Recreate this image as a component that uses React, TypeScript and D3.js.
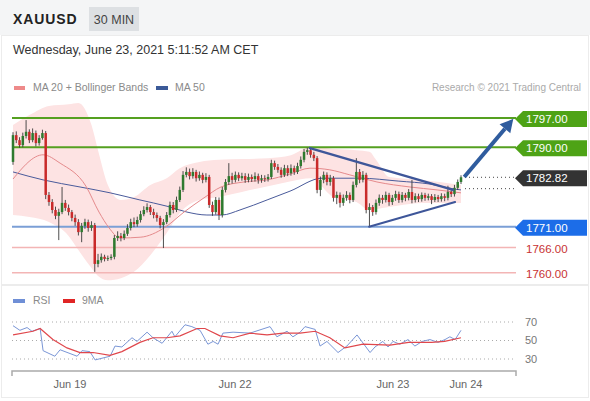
import React from "react";
import * as d3 from "d3";

const symbol = "XAUUSD";
const timeframe = "30 MIN";
const dateText = "Wednesday, June 23, 2021 5:11:52 AM CET";
const credit = "Research \u00a9 2021 Trading Central";

const firstOpen = 1786.5;
const closes = [
  1792.9, 1791.7, 1790.5, 1792.7, 1793.7, 1791.7, 1793.4, 1791.0, 1792.2, 1793.4,
  1778.6, 1776.9, 1775.0, 1773.6, 1774.5, 1776.7, 1775.5, 1774.5, 1773.1, 1772.1,
  1769.7, 1771.2, 1772.1, 1770.7, 1771.4, 1762.1, 1763.0, 1763.8, 1763.3, 1763.5,
  1763.8, 1768.3, 1768.8, 1768.3, 1769.3, 1770.7, 1772.1, 1771.6, 1772.6, 1774.0,
  1775.0, 1775.7, 1774.5, 1773.8, 1773.1, 1771.4, 1772.1, 1773.8, 1776.2, 1775.0,
  1777.4, 1779.8, 1783.4, 1784.1, 1783.1, 1784.1, 1782.6, 1783.4, 1782.2, 1782.9,
  1776.2, 1774.5, 1777.4, 1773.8, 1779.8, 1781.7, 1783.1, 1782.2, 1783.4, 1782.6,
  1783.1, 1782.2, 1782.9, 1782.4, 1783.1, 1782.2, 1782.6, 1782.4, 1782.9, 1786.2,
  1785.3, 1784.6, 1783.4, 1785.0, 1783.8, 1785.0, 1784.1, 1785.5, 1787.0, 1788.9,
  1789.3, 1788.2, 1787.4, 1779.8, 1782.2, 1783.4, 1781.7, 1782.6, 1777.9, 1778.6,
  1776.7, 1777.9, 1778.6, 1777.4, 1781.0, 1784.1, 1782.2, 1783.4, 1775.0, 1775.7,
  1774.5, 1776.7, 1777.9, 1777.4, 1778.6, 1776.9, 1777.9, 1778.8, 1777.4, 1778.6,
  1777.9, 1779.3, 1777.4, 1778.3, 1777.6, 1778.6, 1777.9, 1778.3, 1777.4, 1778.1,
  1777.6, 1778.3, 1777.9, 1779.3, 1778.8, 1780.3, 1781.7, 1782.82,
];
const highs = [
  1793.6, 1793.8, 1792.4, 1793.5, 1796.5, 1794.3, 1794.5, 1794.0, 1792.9, 1794.2,
  1793.9, 1779.3, 1777.6, 1775.8, 1775.3, 1780.5, 1777.4, 1776.3, 1775.0, 1773.9,
  1772.8, 1771.9, 1772.9, 1772.7, 1772.3, 1771.9, 1764.5, 1764.6, 1764.3, 1764.1,
  1764.4, 1769.0, 1769.9, 1769.5, 1770.1, 1771.6, 1772.9, 1773.2, 1773.4, 1774.8,
  1775.9, 1776.6, 1776.2, 1775.3, 1774.4, 1773.6, 1772.8, 1774.5, 1777.0, 1776.9,
  1778.2, 1780.6, 1784.3, 1785.2, 1784.9, 1785.0, 1784.6, 1784.2, 1783.9, 1783.8,
  1783.4, 1777.0, 1778.1, 1778.0, 1780.5, 1782.4, 1786.2, 1783.9, 1784.2, 1784.0,
  1783.9, 1783.8, 1783.7, 1783.5, 1784.0, 1783.7, 1783.4, 1783.3, 1783.6, 1787.0,
  1786.8, 1786.0, 1785.2, 1785.8, 1785.7, 1785.9, 1785.6, 1786.3, 1787.8, 1789.6,
  1789.9, 1789.8, 1788.9, 1787.9, 1783.0, 1784.2, 1784.0, 1783.4, 1783.1, 1779.4,
  1779.2, 1778.7, 1779.5, 1779.2, 1781.8, 1787.4, 1784.8, 1784.3, 1783.9, 1776.6,
  1776.2, 1777.5, 1778.7, 1778.6, 1779.4, 1779.1, 1778.6, 1779.6, 1779.4, 1779.3,
  1779.1, 1780.0, 1782.2, 1779.0, 1778.9, 1779.2, 1779.1, 1778.9, 1778.8, 1778.8,
  1778.6, 1779.0, 1778.9, 1780.8, 1779.9, 1781.0, 1782.3, 1783.3,
];
const lows = [
  1785.8, 1791.0, 1789.9, 1790.0, 1792.1, 1791.0, 1791.2, 1790.2, 1790.4, 1791.8,
  1777.6, 1776.0, 1774.2, 1772.8, 1767.8, 1774.0, 1774.8, 1773.7, 1772.3, 1771.2,
  1768.9, 1767.3, 1770.5, 1769.8, 1770.0, 1760.2, 1761.3, 1762.4, 1762.7, 1762.8,
  1763.0, 1763.2, 1767.6, 1767.5, 1767.8, 1768.8, 1770.1, 1770.9, 1771.0, 1772.0,
  1773.5, 1774.4, 1773.8, 1773.0, 1772.2, 1770.6, 1765.9, 1771.6, 1773.2, 1774.2,
  1774.5, 1776.9, 1779.3, 1782.8, 1782.3, 1782.5, 1781.8, 1782.0, 1781.4, 1781.6,
  1775.5, 1773.6, 1773.9, 1772.6, 1773.2, 1779.2, 1781.0, 1781.3, 1781.6, 1781.9,
  1782.0, 1781.5, 1781.6, 1781.7, 1781.8, 1781.3, 1781.5, 1781.7, 1781.8, 1782.4,
  1784.6, 1783.9, 1782.7, 1782.9, 1783.1, 1783.2, 1783.4, 1783.6, 1784.9, 1786.4,
  1788.2, 1787.5, 1786.7, 1779.0, 1778.3, 1781.4, 1780.9, 1780.8, 1777.0, 1776.4,
  1775.6, 1776.0, 1777.2, 1776.6, 1776.9, 1780.4, 1781.4, 1781.6, 1774.2, 1771.0,
  1773.6, 1773.9, 1776.0, 1776.5, 1776.8, 1776.0, 1776.2, 1777.2, 1776.7, 1776.8,
  1777.1, 1777.3, 1776.6, 1776.8, 1776.9, 1777.0, 1777.2, 1777.3, 1776.4, 1776.9,
  1776.9, 1777.0, 1777.1, 1777.3, 1778.1, 1778.2, 1779.8, 1781.2,
];

const bandIdx = [0, 5, 11, 17, 20, 24, 26, 29, 33, 37, 42, 47, 51, 57, 63, 70, 78, 85, 91, 98, 105, 109, 111, 115, 125, 137];
const bandUpper = [1795.3, 1797.7, 1799.9, 1800.3, 1800.6, 1795.3, 1789.3, 1781.0, 1777.4, 1778.1, 1781.0, 1782.6, 1785.0, 1786.5, 1787.0, 1787.2, 1787.4, 1788.1, 1790.1, 1789.6, 1789.3, 1788.9, 1787.0, 1782.9, 1782.2, 1781.0];
const bandLower = [1773.8, 1773.3, 1772.1, 1768.8, 1765.4, 1761.1, 1759.2, 1758.2, 1758.7, 1760.2, 1764.2, 1769.5, 1774.3, 1777.4, 1778.1, 1779.3, 1780.7, 1781.9, 1782.6, 1778.1, 1776.9, 1775.0, 1775.2, 1775.7, 1776.7, 1776.7];

const ma20Idx = [0, 9.2, 14.4, 22.3, 26.3, 29.4, 32.7, 39.1, 46.2, 52.3, 58.4, 63.6, 70.6, 77.7, 84.7, 90.8, 96.9, 103, 111.3, 121.4, 129.7, 137];
const ma20Vals = [1782.4, 1788.2, 1786.2, 1780.7, 1774.5, 1770.7, 1768.3, 1768.5, 1770.7, 1774.5, 1777.9, 1780.5, 1781.7, 1782.2, 1783.6, 1785.0, 1784.6, 1783.4, 1781.7, 1780.5, 1779.8, 1779.1];

const ma50Idx = [0, 9.2, 20.5, 29.7, 38.8, 47.1, 53.2, 59.3, 63.9, 69.4, 77.7, 84.7, 94.5, 106, 118, 127.5, 135, 137];
const ma50Vals = [1784.1, 1782.2, 1780.5, 1779.1, 1777.4, 1775.9, 1774.5, 1773.8, 1773.8, 1775.0, 1777.4, 1779.5, 1782.6, 1782.6, 1781.9, 1781.2, 1780.0, 1779.8];

const rsiIdx = [0, 2.1, 4.3, 5.8, 8.3, 9.2, 12.8, 14.4, 19.6, 21.1, 23.5, 25.1, 29.7, 31.2, 33.3, 36.4, 37.9, 41, 42.8, 45.6, 48.6, 49.5, 52.6, 54.7, 57.2, 59.6, 61.2, 62.7, 64.2, 67.3, 72.5, 78.6, 80.7, 83.8, 85.6, 87.8, 89.3, 92.4, 93.9, 96, 99.4, 102.1, 105.2, 109.2, 110.7, 113.1, 114.7, 116.2, 118.3, 120.8, 122.9, 125.1, 127.5, 130, 132.1, 133.6, 135.2, 137];
const rsiVals = [66, 61, 64, 60, 63, 39, 33, 40, 33, 39, 38, 29, 33, 44, 43, 53, 49, 59, 53, 47, 60, 54, 67, 65, 61, 46, 49, 46, 58, 59, 58, 65, 54, 60, 54, 59, 65, 62, 44, 49, 37, 44, 56, 37, 43, 49, 43, 49, 46, 51, 44, 49, 51, 48, 51, 54, 51, 61];

const rsiMaIdx = [0, 6.1, 8.3, 12.2, 16.5, 20.5, 24.5, 29.7, 33.3, 38.8, 42.8, 47.1, 51.1, 56.3, 58.7, 63.3, 67.3, 72.5, 77.7, 82.6, 87.8, 92.4, 96.9, 101.5, 107, 115.3, 121, 128, 132, 137];
const rsiMaVals = [56, 60, 63, 51, 42, 37, 37, 34, 38, 48, 53, 53, 55, 63, 63, 55, 53, 58, 56, 58, 58, 60, 53, 42, 46, 45, 48, 48, 49, 53];

const rsiLevels = [70, 50, 30];
const xTickIdx = [17.4, 67.9, 116.2, 138.5];
const xTickLabels = ["Jun 19", "Jun 22", "Jun 23", "Jun 24"];

const resistanceLevels = [1797.0, 1790.0];
const supportLevel = 1771.0;
const minorLevels = [1766.0, 1760.0];
const lastPrice = 1782.82;
const refPrice = 1780.1;
const trendUpper: [number, number][] = [[90.8, 1789.8], [134.6, 1779.8]];
const trendLower: [number, number][] = [[108.9, 1771.0], [135.2, 1776.9]];
const arrowPts: [number, number][] = [[138, 1782.9], [153, 1796.8]];

const FONT = "'Liberation Sans', Arial, sans-serif";

export default function App() {
  const W = 590, H = 401;
  const plotL = 12, plotR = 516;
  const x = d3.scaleLinear().domain([0, 137]).range([13, 461]);
  const y = d3.scaleLinear().domain([1760, 1797]).range([272.7, 118]);
  const ry = d3.scaleLinear().domain([30, 70]).range([359, 322]);

  const bandArea = d3.area<number>()
    .x((d, i) => x(bandIdx[i]))
    .y0((d, i) => y(bandLower[i]))
    .y1((d, i) => y(bandUpper[i]))
    .curve(d3.curveMonotoneX);
  const line = d3.line<[number, number]>().x(d => x(d[0])).y(d => y(d[1])).curve(d3.curveMonotoneX);
  const rline = d3.line<[number, number]>().x(d => x(d[0])).y(d => ry(d[1]));
  const ma20 = ma20Idx.map((v, i) => [v, ma20Vals[i]] as [number, number]);
  const ma50 = ma50Idx.map((v, i) => [v, ma50Vals[i]] as [number, number]);
  const rsi = rsiIdx.map((v, i) => [v, rsiVals[i]] as [number, number]);
  const rsiMa = rsiMaIdx.map((v, i) => [v, rsiMaVals[i]] as [number, number]);

  const tag = (yc: number, color: string, label: string, key: string) => (
    <g key={key}>
      <path d={`M${plotR - 1},${yc} L${plotR + 7},${yc - 8} L587,${yc - 8} L587,${yc + 8} L${plotR + 7},${yc + 8} Z`} fill={color} />
      <text x={526} y={yc} dy="0.36em" fill="#fff" fontSize={11.5} fontFamily={FONT}>{label}</text>
    </g>
  );

  const ax0 = x(arrowPts[0][0]), ay0 = y(arrowPts[0][1]);
  const ax1 = x(arrowPts[1][0]), ay1 = y(arrowPts[1][1]);
  const ang = Math.atan2(ay1 - ay0, ax1 - ax0);
  const hl = 13, hw = 7;
  const bx = ax1 - hl * Math.cos(ang), by = ay1 - hl * Math.sin(ang);
  const px = -Math.sin(ang), py = Math.cos(ang);

  return (
    <svg width={W} height={H} style={{ position: "absolute", left: 0, top: 0, background: "#fff" }}>
      <defs>
        <clipPath id="plotClip"><rect x={plotL} y={98} width={plotR - plotL} height={183} /></clipPath>
      </defs>
      <rect x={0} y={0} width={W} height={35} fill="#f4f5f6" />
      <text x={13} y={24} fontSize={14} fontWeight="bold" letterSpacing={0.9} fill="#222" fontFamily={FONT}>{symbol}</text>
      <rect x={89} y={7} width={50} height={24} fill="#dde0e3" />
      <text x={114} y={24} textAnchor="middle" fontSize={12.5} fill="#444" fontFamily={FONT}>{timeframe}</text>
      <rect x={1.5} y={35.5} width={587} height={249} fill="none" stroke="#ececec" />
      <rect x={1.5} y={285.5} width={587} height={112} fill="none" stroke="#ececec" />
      <text x={13} y={54} fontSize={12.5} fill="#333" fontFamily={FONT}>{dateText}</text>

      <rect x={14} y={86} width={11} height={4} fill="#ee8a8a" />
      <text x={33} y={91} fontSize={10.5} fill="#8a8a8a" fontFamily={FONT}>MA 20 + Bollinger Bands</text>
      <rect x={156} y={86} width={12} height={4} fill="#3b5a98" />
      <text x={175} y={91} fontSize={10.5} fill="#8a8a8a" fontFamily={FONT}>MA 50</text>
      <text x={581} y={91} textAnchor="end" fontSize={10} fill="#aaa" fontFamily={FONT}>{credit}</text>

      <g clipPath="url(#plotClip)">
        <path d={bandArea(bandIdx) || ""} fill="#fde3e3" />
      </g>

      {resistanceLevels.map((v, k) => (
        <line key={"r" + k} x1={plotL} x2={plotR} y1={y(v)} y2={y(v)} stroke="#55a020" strokeWidth={2} />
      ))}
      <line x1={plotL} x2={plotR} y1={y(supportLevel)} y2={y(supportLevel)} stroke="#7b9fd6" strokeWidth={2} />
      {minorLevels.map((v, k) => (
        <line key={"m" + k} x1={plotL} x2={plotR} y1={y(v)} y2={y(v)} stroke="#f3b5b5" strokeWidth={1.5} />
      ))}

      <path d={line(ma50) || ""} fill="none" stroke="#4a5b9b" strokeWidth={1} />
      <path d={line(ma20) || ""} fill="none" stroke="#e58a8c" strokeWidth={1} />

      {closes.map((c, i) => {
        const o = i === 0 ? firstOpen : closes[i - 1];
        const up = c >= o;
        const col = up ? "#2f7a2f" : "#c92a2a";
        const top = y(Math.max(o, c)), bot = y(Math.min(o, c));
        return (
          <g key={"c" + i}>
            <line x1={x(i)} x2={x(i)} y1={y(highs[i])} y2={y(lows[i])} stroke="#3a3a3a" strokeWidth={0.9} />
            <rect x={x(i) - 1.25} y={top} width={2.5} height={Math.max(1, bot - top)} fill={col} />
          </g>
        );
      })}

      <line x1={x(trendUpper[0][0])} y1={y(trendUpper[0][1])} x2={x(trendUpper[1][0])} y2={y(trendUpper[1][1])} stroke="#3e5699" strokeWidth={2.5} strokeLinecap="round" />
      <line x1={x(trendLower[0][0])} y1={y(trendLower[0][1])} x2={x(trendLower[1][0])} y2={y(trendLower[1][1])} stroke="#3e5699" strokeWidth={2} strokeLinecap="round" />

      {[lastPrice, refPrice].map((v, k) => (
        <line key={"d" + k} x1={465} x2={plotR} y1={y(v)} y2={y(v)} stroke="#444" strokeWidth={1} strokeDasharray="1,3" />
      ))}

      <line x1={ax0} y1={ay0} x2={bx} y2={by} stroke="#2f5c9e" strokeWidth={4} />
      <path d={`M${ax1},${ay1} L${bx + px * hw},${by + py * hw} L${bx - px * hw},${by - py * hw} Z`} fill="#2f5c9e" />

      {resistanceLevels.map((v, k) => tag(y(v) + 1, "#4ea316", v.toFixed(2), "t" + k))}
      {tag(y(lastPrice) + 1, "#333333", lastPrice.toFixed(2), "tl")}
      {tag(y(supportLevel) + 1, "#1c6de8", supportLevel.toFixed(2), "ts")}
      {minorLevels.map((v, k) => (
        <text key={"mt" + k} x={526} y={y(v) + 1} dy="0.36em" fontSize={11.5} fill="#c83232" fontFamily={FONT}>{v.toFixed(2)}</text>
      ))}

      <rect x={13} y={299} width={12} height={4} fill="#6f8fd6" />
      <text x={33} y={304} fontSize={10.5} fill="#8a8a8a" fontFamily={FONT}>RSI</text>
      <rect x={63} y={299} width={12} height={4} fill="#e02525" />
      <text x={82} y={304} fontSize={10.5} fill="#8a8a8a" fontFamily={FONT}>9MA</text>
      {rsiLevels.map(v => (
        <g key={"rl" + v}>
          <line x1={plotL} x2={plotR} y1={ry(v)} y2={ry(v)} stroke="#aaa" strokeWidth={1} strokeDasharray="1,3" />
          <text x={525} y={ry(v)} dy="0.36em" fontSize={11} fill="#777" fontFamily={FONT}>{v}</text>
        </g>
      ))}
      <path d={rline(rsi) || ""} fill="none" stroke="#7a96d6" strokeWidth={1} />
      <path d={rline(rsiMa) || ""} fill="none" stroke="#e0474c" strokeWidth={1.2} />

      <path d={`M${plotL},376 V371 H${plotR} V376`} fill="none" stroke="#aaa" strokeWidth={1.5} />
      {xTickIdx.map((v, k) => (
        <text key={"xt" + k} x={x(v)} y={388} textAnchor="middle" fontSize={11} fill="#666" fontFamily={FONT}>{xTickLabels[k]}</text>
      ))}
    </svg>
  );
}
